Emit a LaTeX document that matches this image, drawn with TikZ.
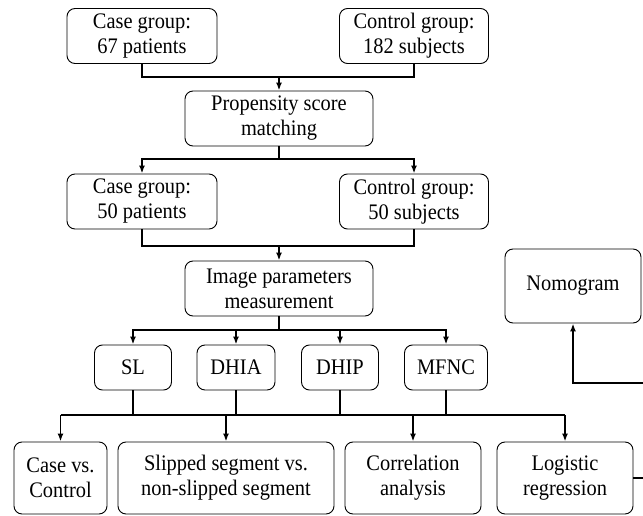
\documentclass[tikz,border=0pt]{standalone}
\usepackage{fontspec}
\setmainfont{Liberation Serif}[FakeStretch=0.92]
\usetikzlibrary{arrows.meta}
\tikzset{
  box/.style={draw, rounded corners=8pt, line width=0.9pt, align=center, inner sep=2pt,
    font=\fontsize{22.2}{25}\selectfont},
  conn/.style={line width=1.6pt},
  arr/.style={line width=1.6pt, -{Latex[length=8pt,width=6pt]}}
}
\begin{document}
\begin{tikzpicture}[x=1pt,y=-1pt]
\useasboundingbox (0,0) rectangle (643,516);
\clip (0,0) rectangle (643,516);
% nodes
\node[box, minimum width=150pt, minimum height=55pt] (c1) at (142,36) {Case group:\hspace{0.5em}\\67 patients};
\node[box, minimum width=149pt, minimum height=55pt] (k1) at (414,36) {Control group:\hspace{0.5em}\\182 subjects};
\node[box, minimum width=188pt, minimum height=55pt] (psm) at (279,118.5) {Propensity score\\matching};
\node[box, minimum width=150pt, minimum height=55pt] (c2) at (142,201.5) {Case group:\hspace{0.5em}\\50 patients};
\node[box, minimum width=149pt, minimum height=55pt] (k2) at (414,201.5) {Control group:\hspace{0.5em}\\50 subjects};
\node[box, minimum width=188pt, minimum height=55pt] (ipm) at (279,288.5) {Image parameters\\measurement};
\node[box, minimum width=77pt, minimum height=45pt] (sl) at (133,367.5) {SL};
\node[box, minimum width=78pt, minimum height=45pt] (dhia) at (236,367.5) {DHIA};
\node[box, minimum width=77pt, minimum height=45pt] (dhip) at (340,367.5) {DHIP};
\node[box, minimum width=83pt, minimum height=45pt] (mfnc) at (446,367.5) {MFNC};
\node[box, minimum width=93pt, minimum height=72pt] (cvc) at (60.5,478) {Case vs.\\Control};
\node[box, minimum width=216pt, minimum height=72pt] (ssv) at (226,478) {Slipped segment vs.\\non-slipped segment};
\node[box, minimum width=136pt, minimum height=72pt] (cor) at (413,478) {Correlation\\analysis};
\node[box, minimum width=136pt, minimum height=72pt] (lr) at (565,478) {Logistic\\regression};
\node[box, minimum width=136pt, minimum height=74pt] (nomo) at (573,286) {Nomogram};
% junction coordinates
\coordinate (j1) at (279,77);
\coordinate (j2) at (279,159);
\coordinate (j3) at (279,246);
\coordinate (j4) at (279,330);
\coordinate (bus) at (0,415);
\coordinate (r1) at (660,478);
\coordinate (r2) at (660,383);
% connectors
\draw[conn] (c1.south) |- (j1) -| (k1.south);
\draw[arr] (j1) -- (psm.north);
\draw[conn] (psm.south) -- (j2);
\draw[arr] (j2) -| (c2.north);
\draw[arr] (j2) -| (k2.north);
\draw[conn] (c2.south) |- (j3) -| (k2.south);
\draw[arr] (j3) -- (ipm.north);
\draw[conn] (ipm.south) -- (j4);
\draw[arr] (j4) -| (sl.north);
\draw[arr] (j4) -| (dhia.north);
\draw[arr] (j4) -| (dhip.north);
\draw[arr] (j4) -| (mfnc.north);
\draw[conn] (sl.south) -- (sl.south |- bus);
\draw[conn] (dhia.south) -- (dhia.south |- bus);
\draw[conn] (dhip.south) -- (dhip.south |- bus);
\draw[conn] (mfnc.south) -- (mfnc.south |- bus);
\draw[conn] (cvc.north |- bus) -- (lr.north |- bus);
\draw[arr] (cvc.north |- bus) -- (cvc.north);
\draw[arr] (ssv.north |- bus) -- (ssv.north);
\draw[arr] (cor.north |- bus) -- (cor.north);
\draw[arr] (lr.north |- bus) -- (lr.north);
\draw[arr] (lr.east) -- (r1) -- (r2) -| (nomo.south);
\end{tikzpicture}
\end{document}
